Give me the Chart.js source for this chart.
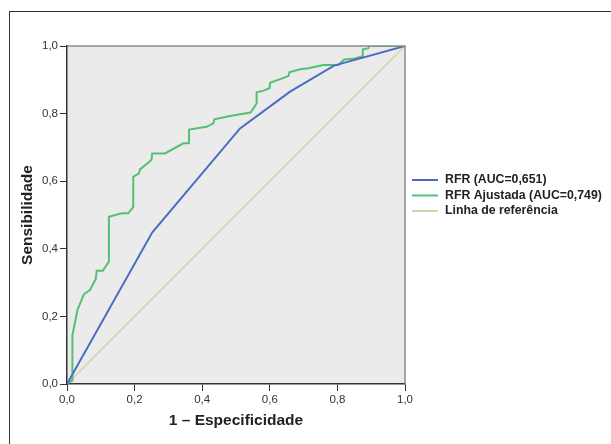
<!DOCTYPE html>
<html>
<head>
<meta charset="utf-8">
<script src="https://cdn.jsdelivr.net/npm/chart.js@4"></script>
<style>
  html, body { margin: 0; padding: 0; background: #fff; }
  canvas { display: block; }
</style>
</head>
<body>
<canvas id="roc" width="611" height="444"></canvas>
<script>
// ROC curves
const seriesLabels = ["RFR (AUC=0,651)", "RFR Ajustada (AUC=0,749)", "Linha de referência"];

const rfrX = [0, 0.252, 0.512, 0.660, 0.790, 1];
const rfrY = [0, 0.448, 0.756, 0.865, 0.942, 1];

const ajustX = [0, 0.015, 0.016, 0.031, 0.050, 0.068, 0.085, 0.088, 0.106, 0.124, 0.124, 0.162, 0.181,
    0.196, 0.196, 0.213, 0.216, 0.250, 0.252, 0.290, 0.344, 0.361, 0.361, 0.413, 0.433, 0.436, 0.482,
    0.543, 0.561, 0.561, 0.581, 0.599, 0.601, 0.655, 0.658, 0.689, 0.714, 0.758, 0.803, 0.820, 0.852,
    0.875, 0.875, 0.891, 0.894, 1];
const ajustY = [0, 0.010, 0.145, 0.219, 0.266, 0.278, 0.311, 0.335, 0.335, 0.362, 0.495, 0.505, 0.505,
    0.523, 0.613, 0.623, 0.635, 0.663, 0.682, 0.682, 0.712, 0.712, 0.753, 0.761, 0.771, 0.783, 0.793,
    0.803, 0.830, 0.863, 0.868, 0.875, 0.891, 0.911, 0.922, 0.931, 0.934, 0.944, 0.944, 0.960, 0.963,
    0.970, 0.990, 0.993, 1.000, 1];

const refX = [0, 1];
const refY = [0, 1];

const tickValues = [0, 0.2, 0.4, 0.6, 0.8, 1.0];

const pts = (xs, ys) => xs.map((x, i) => ({ x, y: ys[i] }));
const fmt = v => v.toFixed(1).replace(".", ",");

const frame = {
    id: "frame",
    beforeDraw(chart) {
        const { ctx, chartArea: a } = chart;
        ctx.save();
        ctx.fillStyle = "#ebebeb";
        ctx.fillRect(a.left, a.top, a.right - a.left, a.bottom - a.top);
        ctx.strokeStyle = "#333";
        ctx.lineWidth = 1;
        ctx.strokeRect(9.5, 11.5, 800, 600);
        ctx.restore();
    },
    afterDatasetsDraw(chart) {
        const { ctx, chartArea: a } = chart;
        ctx.save();
        ctx.strokeStyle = "#8a8a8a";
        ctx.lineWidth = 1.5;
        ctx.beginPath();
        ctx.moveTo(a.left, a.top);
        ctx.lineTo(a.right, a.top);
        ctx.lineTo(a.right, a.bottom);
        ctx.stroke();

        // legend
        ctx.font = "bold 12.3px 'Liberation Sans', Arial, sans-serif";
        ctx.textBaseline = "middle";
        ctx.fillStyle = "#222";
        chart.data.datasets.forEach((ds, i) => {
            const y = 180 + i * 15.5;
            ctx.strokeStyle = ds.borderColor;
            ctx.lineWidth = 2;
            ctx.beginPath();
            ctx.moveTo(412, y);
            ctx.lineTo(438, y);
            ctx.stroke();
            ctx.fillText(ds.label, 445, y);
        });
        ctx.restore();
    }
};

const axisFont = { family: "'Liberation Sans', Arial, sans-serif", size: 11.5 };
const titleFont = { family: "'Liberation Sans', Arial, sans-serif", size: 15.5, weight: "bold" };

new Chart(document.getElementById("roc"), {
    type: "scatter",
    data: {
        datasets: [
            { label: seriesLabels[0], data: pts(rfrX, rfrY), borderColor: "#4a6cc2", borderWidth: 2 },
            { label: seriesLabels[1], data: pts(ajustX, ajustY), borderColor: "#55c074", borderWidth: 2 },
            { label: seriesLabels[2], data: pts(refX, refY), borderColor: "#d6d4a6", borderWidth: 1.5 }
        ].map(d => ({ ...d, showLine: true, pointRadius: 0, tension: 0, fill: false }))
    },
    options: {
        responsive: false,
        animation: false,
        layout: { padding: { left: 0, right: 206, top: 46, bottom: 0 } },
        plugins: { legend: { display: false }, tooltip: { enabled: false } },
        scales: {
            x: {
                type: "linear", min: 0, max: 1,
                afterBuildTicks: s => { s.ticks = tickValues.map(v => ({ value: v })); },
                afterFit: s => { s.height = 60; },
                ticks: { callback: fmt, font: axisFont, color: "#333", padding: 2, maxRotation: 0 },
                grid: { drawOnChartArea: false, tickLength: 7, color: "#333" },
                border: { color: "#333", width: 1.5 },
                title: { display: true, text: "1 – Especificidade", font: titleFont, color: "#222", padding: { top: 0, bottom: 13.7 } }
            },
            y: {
                type: "linear", min: 0, max: 1,
                afterBuildTicks: s => { s.ticks = tickValues.map(v => ({ value: v })); },
                afterFit: s => { s.width = 67; },
                ticks: { callback: fmt, font: axisFont, color: "#333", padding: 2 },
                grid: { drawOnChartArea: false, tickLength: 7, color: "#333" },
                border: { color: "#333", width: 1.5 },
                title: { display: true, text: "Sensibilidade", font: titleFont, color: "#222", padding: { top: 18.2, bottom: 0 } }
            }
        }
    },
    plugins: [frame]
});
</script>
</body>
</html>
